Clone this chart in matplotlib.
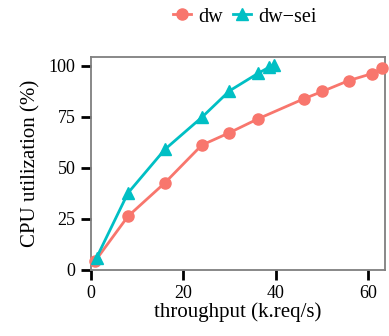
import matplotlib
matplotlib.use("Agg")
import matplotlib.pyplot as plt

plt.rcParams['font.family'] = ['Liberation Serif', 'DejaVu Serif']

dw_x = [0.9, 8.0, 16.0, 24.0, 30.0, 36.1, 46.1, 50.1, 55.8, 60.8, 63.1]
dw_y = [4.4, 26.3, 42.7, 61.2, 67.3, 74.0, 83.9, 87.5, 92.8, 96.2, 98.9]
sei_x = [1.2, 8.0, 16.0, 24.1, 30.0, 36.2, 38.6, 39.7]
sei_y = [6.0, 37.7, 59.1, 75.0, 87.8, 96.4, 99.4, 100.6]

fig = plt.figure(figsize=(3.89, 3.36), dpi=100)
ax = fig.add_axes([91/389, 1-270/336, 294/389, 213/336])

ax.plot(dw_x, dw_y, color='#F8766D', marker='o', markersize=8, lw=2, label='dw', clip_on=False, zorder=3)
ax.plot(sei_x, sei_y, color='#00BFC4', marker='^', markersize=9, lw=2, label='dw\u2212sei', clip_on=False, zorder=4)

ax.set_xlim(0, 63.7)
ax.set_ylim(0, 104.4)
ax.set_xticks([0, 20, 40, 60])
ax.set_yticks([0, 25, 50, 75, 100])
for s in ax.spines.values():
    s.set_color('#7f7f7f')
    s.set_linewidth(1.3)
ax.tick_params(direction='out', length=7, width=2, color='black', labelsize=13, pad=4)
ax.set_xlabel('throughput (k.req/s)', fontsize=15, labelpad=0)
ax.set_ylabel('CPU utilization (%)', fontsize=15, labelpad=6)

fig.legend(loc='center', bbox_to_anchor=(245/389, 1-17/336), ncol=2, frameon=False,
           fontsize=14.5, handlelength=0.9, handletextpad=0.35, columnspacing=0.5,
           borderpad=0, borderaxespad=0)

fig.savefig('out.png', dpi=100)
